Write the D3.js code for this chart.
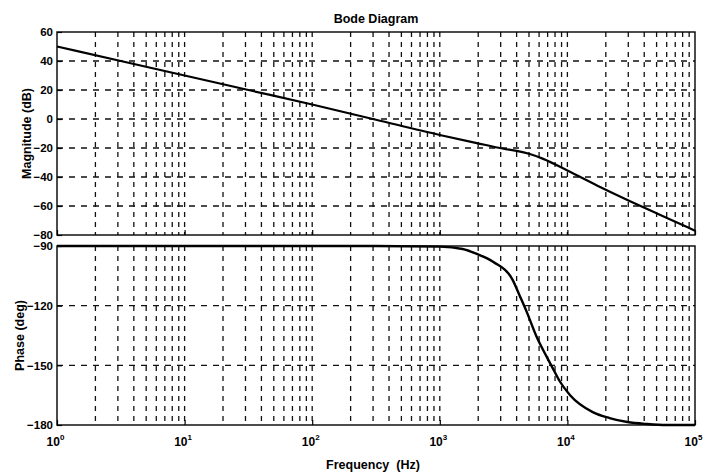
<!DOCTYPE html>
<html>
<head>
<meta charset="utf-8">
<script src="https://cdn.jsdelivr.net/npm/d3@7"></script>
<style>
  html, body { margin: 0; padding: 0; background: #fff; }
  svg { display: block; }
  text { font-family: "Liberation Sans", Arial, sans-serif; font-weight: bold; fill: #000; }
</style>
</head>
<body>
<svg id="chart" width="704" height="472"></svg>
<script>
// Magnitude response (Hz, dB)
const magFreq = [1, 3.16, 10, 31.6, 100, 316, 1000, 1950, 3160, 4000, 5000, 6460, 10000, 18200, 31600, 56200, 100000];
const magDb   = [50, 40, 30, 20, 10, -0.5, -11, -16.6, -20.5, -22, -24, -27.5, -35.5, -47, -57, -67, -77];

// Phase response (Hz, deg)
const phaseFreq = [1, 100, 316, 1000, 1510, 1950, 2630, 3720, 4270, 4790, 5750, 6920, 7760, 8710, 10500, 15800, 21400, 29500, 42000, 60000, 100000];
const phaseDeg  = [-90, -90, -90, -90.3, -91.5, -94, -98, -107, -115.6, -123, -135.8, -146, -152, -158, -165, -173.5, -176.5, -178.5, -179.5, -180, -180];

const magTicks = [60, 40, 20, 0, -20, -40, -60, -80];
const phaseTicks = [-90, -120, -150, -180];
const decadeExps = [0, 1, 2, 3, 4, 5];

const svg = d3.select("#chart");
const left = 57, right = 695;
const magTop = 32, magBottom = 235;
const phTop = 246, phBottom = 425;

const x = d3.scaleLog().domain([1, 1e5]).range([left, right]);
const yMag = d3.scaleLinear().domain([-80, 60]).range([magBottom, magTop]);
const yPh = d3.scaleLinear().domain([-180, -90]).range([phBottom, phTop]);

// minor + major frequency grid positions
const gridFreqs = [];
decadeExps.slice(0, -1).forEach(e => {
  for (let m = 1; m <= 9; m++) {
    const f = m * Math.pow(10, e);
    if (f > 1) gridFreqs.push(f);
  }
});

function panel(y, top, bottom, ticks, showXLabels) {
  const g = svg.append("g");
  // vertical grid
  g.selectAll("line.vg").data(gridFreqs).join("line")
    .attr("class", "vg")
    .attr("x1", d => x(d)).attr("x2", d => x(d))
    .attr("y1", top).attr("y2", bottom)
    .attr("stroke", "#111").attr("stroke-width", 1.3)
    .attr("stroke-dasharray", "5,5");
  // horizontal grid
  g.selectAll("line.hg").data(ticks.filter(t => y(t) > top + 1 && y(t) < bottom - 1)).join("line")
    .attr("class", "hg")
    .attr("x1", left).attr("x2", right)
    .attr("y1", d => y(d)).attr("y2", d => y(d))
    .attr("stroke", "#111").attr("stroke-width", 1.3)
    .attr("stroke-dasharray", "6,6");

  // y axis (ticks inward)
  const ya = g.append("g").attr("transform", `translate(${left},0)`)
    .call(d3.axisLeft(y).tickValues(ticks).tickSizeInner(-5).tickSizeOuter(0).tickPadding(4));
  ya.select(".domain").remove();
  ya.selectAll("line").attr("stroke", "#000").attr("stroke-width", 1.2);
  ya.selectAll("text").attr("font-size", 11.5).attr("font-family", null).attr("font-weight", "bold");

  // x axis (ticks inward)
  const xa = g.append("g").attr("transform", `translate(0,${bottom})`)
    .call(d3.axisBottom(x).tickValues(decadeExps.map(e => Math.pow(10, e)))
      .tickSizeInner(-5).tickSizeOuter(0).tickPadding(6));
  xa.select(".domain").remove();
  xa.selectAll("line").attr("stroke", "#000").attr("stroke-width", 1.2);
  xa.selectAll("text").attr("font-family", null);
  if (showXLabels) {
    xa.selectAll(".tick text").each(function (d) {
      const t = d3.select(this);
      t.text(null).attr("font-size", 12).attr("text-anchor", "middle").attr("dx", -2).attr("dy", "1.25em");
      t.append("tspan").text("10");
      t.append("tspan").attr("font-size", 8).attr("dy", -6).text(Math.round(Math.log10(d)));
    });
  } else {
    xa.selectAll(".tick text").remove();
  }

  // frame
  g.append("rect")
    .attr("x", left).attr("y", top)
    .attr("width", right - left).attr("height", bottom - top)
    .attr("fill", "none").attr("stroke", "#000").attr("stroke-width", 1.4);
  return g;
}

panel(yMag, magTop, magBottom, magTicks, false);
panel(yPh, phTop, phBottom, phaseTicks, true);

// response curves
const magLine = d3.line().x(d => x(d[0])).y(d => yMag(d[1])).curve(d3.curveMonotoneX);
svg.append("path")
  .datum(d3.zip(magFreq, magDb))
  .attr("d", magLine)
  .attr("fill", "none").attr("stroke", "#000").attr("stroke-width", 2.2);

const phLine = d3.line().x(d => x(d[0])).y(d => yPh(d[1])).curve(d3.curveMonotoneX);
svg.append("path")
  .datum(d3.zip(phaseFreq, phaseDeg))
  .attr("d", phLine)
  .attr("fill", "none").attr("stroke", "#000").attr("stroke-width", 2.4);

// titles and labels
svg.append("text").attr("x", 376).attr("y", 23).attr("text-anchor", "middle")
  .attr("font-size", 12.5).text("Bode Diagram");

svg.append("text")
  .attr("transform", `translate(31,${(magTop + magBottom) / 2}) rotate(-90)`)
  .attr("text-anchor", "middle").attr("font-size", 12.5).text("Magnitude (dB)");

svg.append("text")
  .attr("transform", `translate(24,${(phTop + phBottom) / 2}) rotate(-90)`)
  .attr("text-anchor", "middle").attr("font-size", 12.5).text("Phase (deg)");

svg.append("text").attr("x", 373).attr("y", 469).attr("text-anchor", "middle")
  .attr("font-size", 12.5).style("white-space", "pre").text("Frequency  (Hz)");
</script>
</body>
</html>
